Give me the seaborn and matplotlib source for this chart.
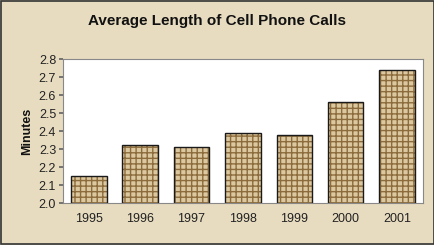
import matplotlib
matplotlib.use("Agg")
import matplotlib.pyplot as plt
import seaborn as sns
import pandas as pd
import numpy as np
from matplotlib.patches import Rectangle

years = ["1995", "1996", "1997", "1998", "1999", "2000", "2001"]
minutes = [2.15, 2.32, 2.31, 2.39, 2.38, 2.56, 2.74]
yticks = [2.0, 2.1, 2.2, 2.3, 2.4, 2.5, 2.6, 2.7, 2.8]

sns.set_theme(style="white")
plt.rcParams['font.family'] = ['Liberation Sans', 'DejaVu Sans']
plt.rcParams['hatch.linewidth'] = 1.0

df = pd.DataFrame({"year": years, "minutes": minutes})

fig = plt.figure(figsize=(4.35, 2.45), dpi=100)
fig.patch.set_facecolor('#e8dcc0')
ax = fig.add_axes([0.145, 0.171, 0.827, 0.588])
ax.set_facecolor('white')

sns.barplot(data=df, x="year", y="minutes", ax=ax, color='#dcc8a0',
            width=0.69, edgecolor='#8c6c3c', linewidth=0, saturation=1)
bars = list(ax.patches)
for p in bars:
    p.set_hatch('+++')
    p.set_edgecolor('#8c6c3c')
    p.set_linewidth(0)
    ax.add_patch(Rectangle(p.get_xy(), p.get_width(), p.get_height(), fill=False,
                           edgecolor='#1a1a1a', linewidth=1.0, zorder=p.get_zorder() + 0.1))

ax.set_ylim(2.0, 2.8)
ax.set_yticks(yticks)
ax.set_yticklabels([f"{v:.1f}" for v in yticks], fontsize=9, color='#222222')
ax.set_xlim(-0.5, len(years) - 0.5)
ax.tick_params(axis='x', length=0, labelsize=9, colors='#222222', pad=7)
ax.set_xticks(np.arange(-0.5, len(years), 1.0), minor=True)
ax.tick_params(axis='x', which='minor', length=3, color='#666666', direction='out')
ax.tick_params(axis='y', length=3, color='#666666', direction='out', left=True, pad=2)
ax.set_xlabel("")
ax.set_ylabel("Minutes", fontsize=9, fontweight='bold', color='#111111', labelpad=4)
for s in ax.spines.values():
    s.set_color('#888888')
    s.set_linewidth(0.8)

fig.text(0.5, 0.915, "Average Length of Cell Phone Calls", ha='center', va='center',
         fontsize=11, fontweight='bold', color='#111111')

border = plt.Rectangle((0.002, 0.004), 0.996, 0.992, transform=fig.transFigure,
                       fill=False, edgecolor='#333333', linewidth=1.2)
fig.patches.append(border)

fig.savefig("out.png", dpi=100, facecolor=fig.get_facecolor())
